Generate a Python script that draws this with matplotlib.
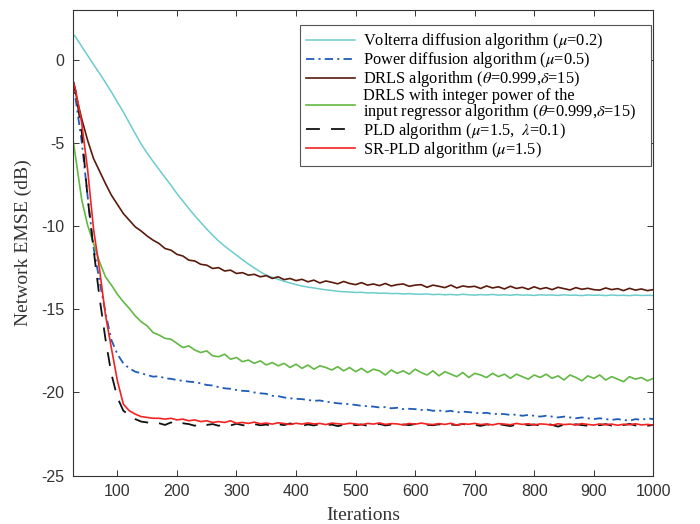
import matplotlib
matplotlib.use("Agg")
import matplotlib.pyplot as plt

plt.rcParams['mathtext.fontset'] = 'stix'
plt.rcParams['axes.unicode_minus'] = False
plt.rcParams['lines.scale_dashes'] = False

iterations = [25] + list(range(30, 1001, 10))

volterra = [1.55, 1.35, 0.80, 0.25, -0.30, -0.82, -1.38, -1.95, -2.55,
            -3.15, -3.80, -4.45, -5.08, -5.62, -6.12, -6.60, -7.08, -7.55, -8.05,
            -8.50, -8.95, -9.38, -9.78, -10.18, -10.55, -10.90, -11.20, -11.48, -11.75,
            -12.02, -12.28, -12.52, -12.75, -12.95, -13.08, -13.20, -13.32, -13.42, -13.52,
            -13.60, -13.67, -13.72, -13.78, -13.83, -13.87, -13.92, -13.95, -13.96, -13.99,
            -13.98, -14.02, -14.01, -14.04, -14.03, -14.06, -14.05, -14.08, -14.06, -14.09,
            -14.10, -14.08, -14.12, -14.10, -14.13, -14.11, -14.14, -14.10, -14.13, -14.15,
            -14.12, -14.14, -14.11, -14.15, -14.13, -14.16, -14.12, -14.15, -14.14, -14.17,
            -14.13, -14.15, -14.14, -14.17, -14.13, -14.16, -14.15, -14.18, -14.14, -14.16,
            -14.15, -14.18, -14.14, -14.17, -14.16, -14.18, -14.15, -14.17, -14.16, -14.17]

power = [-1.20, -2.40, -4.90, -8.20, -11.30, -13.30, -15.20, -16.85, -17.70,
         -18.25, -18.55, -18.75, -18.85, -18.95, -19.05, -19.02, -19.15, -19.18, -19.25,
         -19.30, -19.35, -19.38, -19.45, -19.55, -19.58, -19.68, -19.75, -19.78, -19.85,
         -19.90, -19.92, -20.00, -20.05, -20.08, -20.20, -20.22, -20.30, -20.35, -20.38,
         -20.40, -20.45, -20.50, -20.48, -20.55, -20.60, -20.65, -20.68, -20.70, -20.75,
         -20.80, -20.82, -20.85, -20.90, -20.88, -20.95, -20.92, -21.00, -20.98, -21.00,
         -21.05, -21.03, -21.10, -21.08, -21.15, -21.10, -21.20, -21.15, -21.18, -21.22,
         -21.25, -21.22, -21.30, -21.28, -21.30, -21.35, -21.33, -21.40, -21.35, -21.40,
         -21.45, -21.40, -21.45, -21.50, -21.45, -21.50, -21.55, -21.50, -21.55, -21.60,
         -21.55, -21.60, -21.65, -21.60, -21.65, -21.70, -21.60, -21.65, -21.55, -21.60]

drls = [-1.20, -2.05, -3.55, -4.85, -5.95, -6.70, -7.45, -8.15, -8.70,
        -9.25, -9.65, -10.05, -10.30, -10.60, -10.85, -11.05, -11.35, -11.45, -11.70,
        -11.80, -12.05, -12.10, -12.30, -12.35, -12.55, -12.50, -12.70, -12.65, -12.85,
        -12.80, -12.95, -12.90, -13.05, -12.98, -13.15, -13.05, -13.22, -13.15, -13.28,
        -13.20, -13.35, -13.25, -13.42, -13.30, -13.38, -13.47, -13.33, -13.45, -13.52,
        -13.40, -13.55, -13.48, -13.58, -13.45, -13.60, -13.52, -13.48, -13.62, -13.55,
        -13.52, -13.68, -13.55, -13.62, -13.70, -13.55, -13.72, -13.60, -13.66, -13.62,
        -13.75, -13.60, -13.72, -13.65, -13.78, -13.62, -13.75, -13.68, -13.80, -13.65,
        -13.78, -13.70, -13.82, -13.68, -13.76, -13.84, -13.70, -13.80, -13.74, -13.82,
        -13.85, -13.72, -13.82, -13.76, -13.88, -13.74, -13.85, -13.78, -13.88, -13.82]

drls_int = [-4.70, -5.90, -8.40, -9.95, -11.05, -12.15, -13.05, -13.55, -14.10,
            -14.55, -14.95, -15.40, -15.75, -16.00, -16.40, -16.55, -16.75, -16.80, -17.05,
            -17.30, -17.20, -17.45, -17.60, -17.50, -17.80, -17.85, -17.70, -18.00, -17.90,
            -18.15, -18.05, -18.25, -18.10, -18.35, -18.20, -18.40, -18.25, -18.50, -18.30,
            -18.55, -18.35, -18.60, -18.40, -18.50, -18.65, -18.45, -18.70, -18.50, -18.75,
            -18.55, -18.80, -18.60, -18.70, -18.95, -18.65, -18.85, -18.70, -18.90, -18.60,
            -18.80, -18.95, -18.70, -19.00, -18.75, -18.90, -19.05, -18.80, -19.10, -18.85,
            -18.95, -19.10, -18.85, -19.05, -18.90, -19.15, -18.90, -19.05, -19.20, -18.95,
            -19.10, -18.90, -19.15, -19.00, -19.25, -18.95, -19.10, -19.30, -19.00, -19.15,
            -18.95, -19.25, -19.05, -19.20, -19.35, -19.05, -19.20, -19.10, -19.30, -19.15]

pld = [-1.20, -1.90, -4.30, -8.30, -11.40, -14.30, -16.80, -18.90, -20.30,
       -21.10, -21.35, -21.60, -21.75, -21.80, -21.90, -21.85, -21.95, -21.80, -21.95,
       -21.85, -21.90, -22.00, -21.85, -21.95, -21.90, -22.00, -21.92, -21.98, -21.88,
       -21.96, -22.02, -21.90, -21.97, -21.93, -22.00, -21.91, -21.96, -21.86, -21.95,
       -22.01, -21.92, -21.98, -21.90, -21.97, -21.93, -22.02, -21.94, -21.88, -21.97,
       -21.92, -22.00, -21.95, -21.89, -21.98, -21.93, -22.01, -21.92, -21.96, -21.90,
       -21.99, -21.94, -21.97, -21.91, -22.00, -21.93, -21.96, -21.89, -21.98, -21.94,
       -22.01, -21.92, -21.97, -21.90, -21.96, -22.02, -21.93, -21.88, -21.97, -21.92,
       -21.99, -21.86, -21.95, -22.05, -21.93, -21.98, -21.91, -21.96, -22.00, -21.92,
       -21.97, -21.90, -21.99, -21.93, -21.96, -21.89, -21.98, -21.94, -22.00, -21.95]

srpld = [-1.20, -1.85, -3.80, -6.60, -10.20, -12.60, -15.35, -17.35, -19.30,
         -20.70, -21.10, -21.30, -21.45, -21.50, -21.55, -21.55, -21.60, -21.55, -21.65,
         -21.60, -21.70, -21.65, -21.75, -21.70, -21.80, -21.75, -21.80, -21.70, -21.85,
         -21.80, -21.86, -21.78, -21.88, -21.84, -21.90, -21.82, -21.87, -21.92, -21.85,
         -21.90, -21.83, -21.89, -21.86, -21.93, -21.84, -21.88, -21.91, -21.85, -21.89,
         -21.94, -21.86, -21.90, -21.83, -21.92, -21.87, -21.89, -21.95, -21.86, -21.91,
         -21.84, -21.90, -21.93, -21.87, -21.92, -21.85, -21.96, -21.88, -21.91, -21.86,
         -21.93, -21.89, -21.95, -21.87, -21.90, -21.94, -21.86, -21.92, -21.88, -21.95,
         -21.89, -21.91, -21.97, -21.88, -21.93, -21.90, -21.95, -21.87, -21.92, -21.96,
         -21.89, -21.94, -21.90, -21.97, -21.91, -21.94, -21.88, -21.95, -21.92, -21.96]

labels = [r'Volterra diffusion algorithm ($\mu$=0.2)',
          r'Power diffusion algorithm ($\mu$=0.5)',
          r'DRLS algorithm ($\theta$=0.999,$\delta$=15)',
          'DRLS with integer power of the\n' + r'input regressor algorithm ($\theta$=0.999,$\delta$=15)   ',
          r'PLD algorithm ($\mu$=1.5,  $\lambda$=0.1)',
          r'SR-PLD algorithm ($\mu$=1.5)']

xticks = [100, 200, 300, 400, 500, 600, 700, 800, 900, 1000]
yticks = [0, -5, -10, -15, -20, -25]

fig = plt.figure(figsize=(7.0, 5.24), dpi=100)
ax = fig.add_axes([0.1039, 0.0922, 0.8294, 0.8893])

ax.plot(iterations, volterra, color='#6ccccc', lw=1.1, label=labels[0])
ax.plot(iterations, power, color='#1f5cb8', lw=1.3, linestyle=(0, (6, 3, 1.5, 3)), label=labels[1])
ax.plot(iterations, drls, color='#5a1a0c', lw=1.2, label=labels[2])
ax.plot(iterations, drls_int, color='#62b843', lw=1.2, label=labels[3])
ax.plot(iterations, pld, color='#111111', lw=1.3, linestyle=(0, (10, 8)), label=labels[4])
ax.plot(iterations, srpld, color='#f52222', lw=1.2, label=labels[5])

ax.set_xlim(25, 1000)
ax.set_ylim(-25, 3)
ax.set_xticks(xticks)
ax.set_yticks(yticks)
ax.set_xticklabels([str(v) for v in xticks], family='Liberation Sans', fontsize=11.5, color='#333333')
ax.set_yticklabels([str(v) for v in yticks], family='Liberation Sans', fontsize=11.5, color='#333333')
ax.tick_params(direction='in', top=True, right=True, length=4, width=0.7, color='#333333', pad=6)
for s in ax.spines.values():
    s.set_color('#333333')
    s.set_linewidth(0.8)

ax.set_xlabel('Iterations', family='Liberation Serif', fontsize=14, color='#333333')
ax.set_ylabel('Network EMSE (dB)', family='Liberation Serif', fontsize=14, color='#333333')
ax.xaxis.set_label_coords(0.5, -0.068)
ax.yaxis.set_label_coords(-0.07, 0.5)

leg = ax.legend(loc='upper right', bbox_to_anchor=(0.996, 0.967), borderaxespad=0,
                prop={'family': 'Liberation Serif', 'size': 11.8}, handlelength=2.95,
                handletextpad=0.5, labelspacing=-0.06, borderpad=0.38, fancybox=False,
                edgecolor='#555555', framealpha=1)
leg.get_frame().set_linewidth(0.8)
for t in leg.get_texts():
    t.set_linespacing(0.82)
    t.set_multialignment('left')

fig.savefig('out.png', dpi=100)
